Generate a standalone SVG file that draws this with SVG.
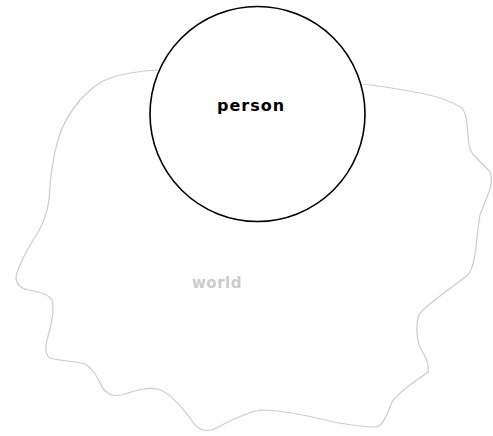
<svg xmlns="http://www.w3.org/2000/svg" width="493" height="436" viewBox="0 0 493 436">
<style>
.world{fill:none;stroke:#cccccc;stroke-width:1.2;stroke-linejoin:round}
.node{fill:#ffffff;stroke:#000000;stroke-width:1.6}
.lbl{font-family:"DejaVu Sans",sans-serif;font-weight:bold}
</style>
<rect width="493" height="436" fill="#ffffff"/>
<g id="world">
<path class="world" d="M158,70 C140,71 125,73 110,78 C98,82 90,90 80,100 C70,112 62,125 58,140 C52,160 50,180 49,200 C47,215 42,228 33,240 C26,252 18,266 16,277 C16,284 20,288 28,290 C40,292 48,294 52,300 C55,310 50,330 47,340 C45,350 46,356 50,358 C60,361 75,361 85,364 C95,370 98,380 104,390 C110,396 116,397 125,394 C135,391 145,387 158,389 C170,393 180,405 190,418 C196,428 202,432 212,430 C225,424 240,414 260,410 C285,410 310,416 333,422 C350,425 365,427 377,427 C383,425 387,415 392,402 C400,390 418,380 428,372 C430,362 422,352 419,345 C416,335 416,320 420,313 C430,302 455,285 468,275 C477,263 476,235 480,215 C485,200 495,185 490,172 C480,160 470,155 469,145 C467,130 468,116 462,108 C450,100 435,96 420,93 C400,89 380,86 363,84"/>
<text class="lbl" x="192" y="288" font-size="15" fill="#cccccc" letter-spacing="0.5">world</text>
</g>
<g id="person">
<circle class="node" cx="257.5" cy="114" r="107.5"/>
<text class="lbl" x="217" y="111" font-size="16" fill="#000000" letter-spacing="1">person</text>
</g>
<g id="connectors"></g>
</svg>
